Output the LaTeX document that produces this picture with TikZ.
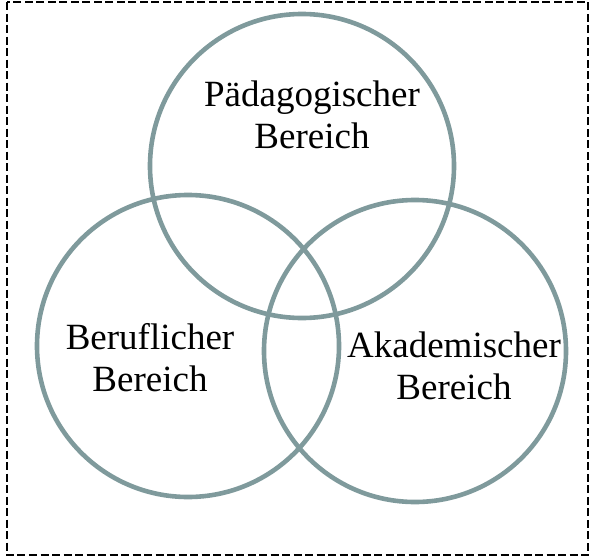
\documentclass[tikz,border=0pt]{standalone}
\usepackage{fontspec}
\setmainfont{Liberation Serif}
\definecolor{ringcol}{RGB}{127,154,156}
\begin{document}
\begin{tikzpicture}[x=1pt,y=-1pt,
  ring/.style={draw=ringcol,line width=4.6pt},
  lbl/.style={align=center,inner sep=0pt,font=\fontsize{37}{42}\selectfont},
  frame/.style={draw=black,line width=2.2pt,dash pattern=on 8pt off 3.5pt}]
\useasboundingbox (0,0) rectangle (590,557);
\draw[frame] (7,2) rectangle (588,555);
\node[ring,circle,minimum size=304pt,inner sep=0pt] (top) at (302,166) {};
\node[ring,circle,minimum size=302pt,inner sep=0pt] (left) at (188,346) {};
\node[ring,circle,minimum size=302pt,inner sep=0pt] (right) at (415,351) {};
\node[lbl] (ped) at (312,115) {Pädagogischer\\Bereich};
\node[lbl] (ber) at (150,358) {Beruflicher\\Bereich};
\node[lbl] (aka) at (454,366) {Akademischer\\Bereich};
\end{tikzpicture}
\end{document}
